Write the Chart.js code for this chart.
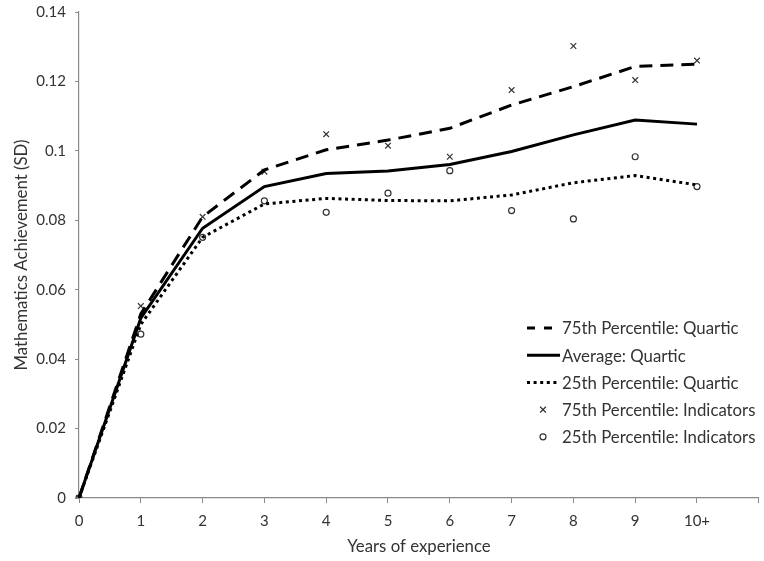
<!DOCTYPE html>
<html>
<head>
<meta charset="utf-8">
<script src="https://cdn.jsdelivr.net/npm/chart.js@4.4.1/dist/chart.umd.min.js"></script>
<style>
  html, body { margin: 0; padding: 0; background: #ffffff; }
  #wrap { width: 764px; height: 561px; }
</style>
</head>
<body>
<div id="wrap"><canvas id="chart" width="764" height="561"></canvas></div>
<script>
// Years of experience (last slot is an unlabeled end tick)
const years = ['0', '1', '2', '3', '4', '5', '6', '7', '8', '9', '10+', ''];

// Fitted quartic curves
const p75Quartic = [0, 0.053, 0.081, 0.0945, 0.1003, 0.1031, 0.1065, 0.1132, 0.1185, 0.1243, 0.1250];
const avgQuartic = [0, 0.0518, 0.0777, 0.0897, 0.0935, 0.0942, 0.0961, 0.0998, 0.1046, 0.1089, 0.1077];
const p25Quartic = [0, 0.0500, 0.0751, 0.0847, 0.0863, 0.0857, 0.0856, 0.0873, 0.0908, 0.0929, 0.0902];

// Year-by-year indicator estimates
const p75Indicators = [0, 0.0553, 0.0810, 0.0940, 0.1048, 0.1015, 0.0983, 0.1175, 0.1302, 0.1204, 0.1260];
const p25Indicators = [0, 0.0472, 0.0751, 0.0856, 0.0823, 0.0878, 0.0943, 0.0828, 0.0804, 0.0983, 0.0897];

const yTicks = [0, 0.02, 0.04, 0.06, 0.08, 0.1, 0.12, 0.14];

const FONT = 'Lato, "Open Sans", sans-serif';
const TEXT = '#333333';
const AXIS = '#8a8a8a';

// Legend drawn inside the plot area, lower right
const insideLegend = {
  id: 'insideLegend',
  afterDraw(chart, args, opts) {
    const ctx = chart.ctx;
    const sets = chart.data.datasets;
    ctx.save();
    ctx.font = opts.fontSize + 'px ' + FONT;
    ctx.textBaseline = 'middle';
    ctx.textAlign = 'left';
    sets.forEach((ds, i) => {
      const y = opts.top + i * opts.rowGap;
      const x0 = opts.left, x1 = opts.left + opts.sample;
      if (ds.showLine !== false) {
        ctx.strokeStyle = ds.borderColor;
        ctx.lineWidth = ds.borderWidth;
        ctx.setLineDash(ds.legendDash || ds.borderDash || []);
        ctx.beginPath();
        ctx.moveTo(x0, y);
        ctx.lineTo(x1, y);
        ctx.stroke();
        ctx.setLineDash([]);
      } else {
        const cx = (x0 + x1) / 2 - 0.5;
        ctx.strokeStyle = ds.pointBorderColor;
        ctx.lineWidth = 1.2;
        ctx.beginPath();
        if (ds.pointStyle === 'crossRot') {
          const r = ds.pointRadius * 0.72;
          ctx.moveTo(cx - r, y - r); ctx.lineTo(cx + r, y + r);
          ctx.moveTo(cx - r, y + r); ctx.lineTo(cx + r, y - r);
        } else {
          ctx.arc(cx, y, ds.pointRadius, 0, Math.PI * 2);
        }
        ctx.stroke();
      }
      ctx.fillStyle = TEXT;
      ctx.fillText(ds.label, x1 + opts.textGap, y + 1);
    });
    ctx.restore();
  }
};

const lineDs = (label, data, dash, legendDash) => ({
  type: 'line',
  label, data,
  borderColor: '#000000',
  borderWidth: 3,
  borderDash: dash,
  legendDash: legendDash,
  pointRadius: 0,
  pointHoverRadius: 0,
  fill: false,
  tension: 0
});

const markDs = (label, data, style, radius) => ({
  type: 'line',
  label, data,
  showLine: false,
  pointStyle: style,
  pointRadius: radius,
  pointBorderWidth: 1.2,
  pointBorderColor: '#333333',
  pointBackgroundColor: 'rgba(0,0,0,0)',
  borderColor: '#333333'
});

new Chart(document.getElementById('chart'), {
  type: 'line',
  data: {
    labels: years,
    datasets: [
      lineDs('75th Percentile: Quartic', p75Quartic, [13, 8], [8, 9]),
      lineDs('Average: Quartic', avgQuartic, []),
      lineDs('25th Percentile: Quartic', p25Quartic, [3, 3.6]),
      markDs('75th Percentile: Indicators', p75Indicators, 'crossRot', 4),
      markDs('25th Percentile: Indicators', p25Indicators, 'circle', 3)
    ]
  },
  options: {
    responsive: false,
    animation: false,
    events: [],
    layout: { padding: { top: 12, right: 3, left: 0, bottom: 0 } },
    plugins: {
      legend: { display: false },
      tooltip: { enabled: false },
      insideLegend: { left: 527, top: 328, rowGap: 27.2, sample: 33, textGap: 2, fontSize: 16.8 }
    },
    scales: {
      x: {
        type: 'category',
        offset: false,
        grid: { display: true, drawOnChartArea: false, drawTicks: true, tickLength: 5, color: AXIS, offset: false },
        border: { display: true, color: AXIS, width: 1.2 },
        ticks: { color: TEXT, font: { family: FONT, size: 15 }, padding: 9, maxRotation: 0, autoSkip: false },
        title: { display: true, text: 'Years of experience', color: TEXT, font: { family: FONT, size: 16.8 }, padding: { top: 6, bottom: 4 } },
        afterFit(scale) {
          scale.height = 63;
          scale.paddingLeft = 0;
          scale.paddingRight = 0;
        }
      },
      y: {
        type: 'linear',
        min: 0,
        max: 0.14,
        afterBuildTicks(scale) { scale.ticks = yTicks.map(v => ({ value: v })); },
        grid: { display: true, drawOnChartArea: false, drawTicks: true, tickLength: 4, color: AXIS },
        border: { display: true, color: AXIS, width: 1.2 },
        ticks: { color: TEXT, font: { family: FONT, size: 15 }, padding: 9, callback: v => String(+v.toFixed(2)) },
        title: { display: true, text: 'Mathematics Achievement (SD)', color: TEXT, font: { family: FONT, size: 16.8 }, padding: { top: 12, bottom: 0 } },
        afterFit(scale) {
          scale.width = 79;
          scale.paddingTop = 0;
          scale.paddingBottom = 0;
        }
      }
    }
  },
  plugins: [insideLegend]
});
</script>
</body>
</html>
